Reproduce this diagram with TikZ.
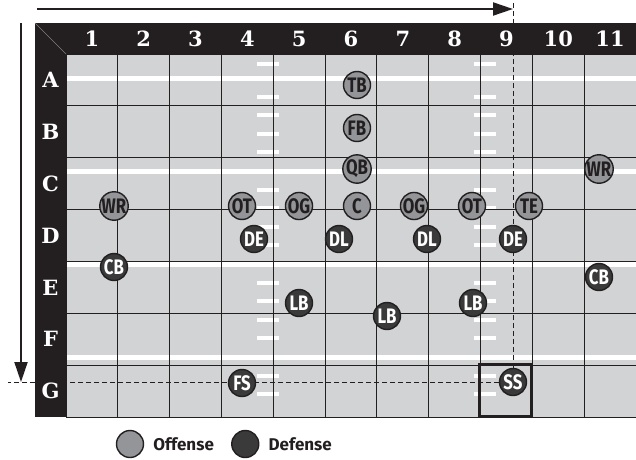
\documentclass[tikz,border=0pt]{standalone}
\usepackage{fontspec}
\usepackage{xcolor}
\usepackage{tikz}
\usetikzlibrary{arrows.meta, positioning, calc}

\newfontfamily\gridfont{DejaVu Serif}
\newfontfamily\playerfont[FakeStretch=0.8]{Fira Sans}
\newfontfamily\keyfont{Fira Sans}

\definecolor{ink}{HTML}{231F20}
\definecolor{turf}{HTML}{D1D3D4}
\definecolor{offgray}{HTML}{939598}
\definecolor{defgray}{HTML}{3A3A3A}

\pgfdeclarelayer{field}
\pgfdeclarelayer{guides}
\pgfsetlayers{field,guides,main}

\begin{document}
\begin{tikzpicture}[
        x=1pt, y=1pt,
        node distance=4pt and 17pt,
        player/.style={
            circle,
            draw=ink,
            line width=1.4pt,
            minimum size=27pt,
            inner sep=0pt,
            font=\playerfont\bfseries\fontsize{21}{21}\selectfont
        },
        offense/.style={player, fill=offgray, text=ink},
        defense/.style={player, fill=defgray, text=white},
        headlabel/.style={
            text=white,
            inner sep=0pt,
            font=\gridfont\bfseries\fontsize{21}{21}\selectfont
        },
        keytext/.style={
            inner sep=0pt,
            text=ink,
            font=\keyfont\bfseries\fontsize{17}{17}\selectfont
        },
        yardline/.style={white, line width=5pt},
        hashmark/.style={white, line width=22pt, dash pattern=on 4pt off 14.6pt},
        guide/.style={ink, line width=0.9pt, dash pattern=on 5pt off 3pt},
        cellbox/.style={draw=ink, line width=2.5pt, minimum size=51.8pt, inner sep=0pt},
        arrow/.style={
            -{Triangle[length=20pt, width=13pt]},
            line width=2pt,
            ink
        }
    ]
    \useasboundingbox (0,0) rectangle (636,459);

    % Field and frame
    \begin{pgfonlayer}{field}
    \fill[ink] (35,42) rectangle (636,436);
    \fill[turf] (66,42) rectangle (636,405);
    \draw[yardline]
        (66,381) -- (636,381)
        (66,288) -- (636,288)
        (66,195) -- (636,195)
        (66,102) -- (636,102);
    \draw[hashmark] (268,397.5) -- (268,393.5) (268,364.4) -- (268,62.8);
    \draw[hashmark] (484.5,397.5) -- (484.5,393.5) (484.5,364.4) -- (484.5,62.8);
    \draw[ink, line width=1pt, shift={(66,42)}]
        (0,0) grid[xstep=51.818, ystep=51.857] (570,363);
    \draw[ink, line width=1pt] (66,42) rectangle (636,405);
    \draw[gray, line width=0.5pt] (35,436) -- (66,405);
    \end{pgfonlayer}

    % Column and row labels
    \node[headlabel] (col1) at (91.9,420.5) {1};
    \node[headlabel] (col2) at (143.7,420.5) {2};
    \node[headlabel] (col3) at (195.5,420.5) {3};
    \node[headlabel] (col4) at (247.4,420.5) {4};
    \node[headlabel] (col5) at (299.2,420.5) {5};
    \node[headlabel] (col6) at (351.0,420.5) {6};
    \node[headlabel] (col7) at (402.8,420.5) {7};
    \node[headlabel] (col8) at (454.7,420.5) {8};
    \node[headlabel] (col9) at (506.5,420.5) {9};
    \node[headlabel] (col10) at (558.3,420.5) {10};
    \node[headlabel] (col11) at (610.1,420.5) {11};

    \node[headlabel] (rowA) at (50.5,379.1) {A};
    \node[headlabel] (rowB) at (50.5,327.2) {B};
    \node[headlabel] (rowC) at (50.5,275.4) {C};
    \node[headlabel] (rowD) at (50.5,223.5) {D};
    \node[headlabel] (rowE) at (50.5,171.6) {E};
    \node[headlabel] (rowF) at (50.5,119.7) {F};
    \node[headlabel] (rowG) at (50.5,67.9) {G};

    % Target cell
    \node[cellbox] (sscell) at (505.4,68.5) {};

    % Offense
    \node[offense] (tb) at (357,374) {TB};
    \node[offense] (fb) at (357,331) {FB};
    \node[offense] (qb) at (357,290) {QB};
    \node[offense] (wrright) at (599,290) {WR};
    \node[offense] (wrleft) at (114,253) {WR};
    \node[offense] (otleft) at (242,253) {OT};
    \node[offense] (ogleft) at (299,253) {OG};
    \node[offense] (center) at (357,253) {C};
    \node[offense] (ogright) at (414,253) {OG};
    \node[offense] (otright) at (472,253) {OT};
    \node[offense] (te) at (529,253) {TE};

    % Defense
    \node[defense] (deleft) at (254,220) {DE};
    \node[defense] (dlleft) at (339,220) {DL};
    \node[defense] (dlright) at (427,220) {DL};
    \node[defense] (deright) at (513,220) {DE};
    \node[defense] (cbleft) at (114,192) {CB};
    \node[defense] (cbright) at (599,182) {CB};
    \node[defense] (lbleft) at (299,156) {LB};
    \node[defense] (lbmid) at (387,143) {LB};
    \node[defense] (lbright) at (473,156) {LB};
    \node[defense] (fs) at (242,76) {FS};
    \node[defense] (ss) at (513,77) {SS};

    % Guides to the strong safety
    \coordinate (guidetop) at (ss |- 0,459);
    \coordinate (guideleft) at (ss -| 8,0);
    \begin{pgfonlayer}{guides}
    \draw[guide] (ss.north) -- (guidetop);
    \draw[guide] (ss.west) -- (guideleft);
    \end{pgfonlayer}

    % Axis arrows
    \coordinate (acrosstail) at (37,450);
    \coordinate (acrosstip) at (acrosstail -| ss);
    \coordinate (downtail) at (21,436);
    \coordinate (downtip) at (downtail |- ss);
    \draw[arrow] (acrosstail) -- (acrosstip);
    \draw[arrow] (downtail) -- (downtip);

    % Key
    \node[offense] (offkey) at (130,15) {};
    \node[keytext, right=9pt of offkey] (offlabel) {Offense};
    \node[defense, right=17pt of offlabel] (defkey) {};
    \node[keytext, right=9pt of defkey] (deflabel) {Defense};

\end{tikzpicture}
\end{document}
